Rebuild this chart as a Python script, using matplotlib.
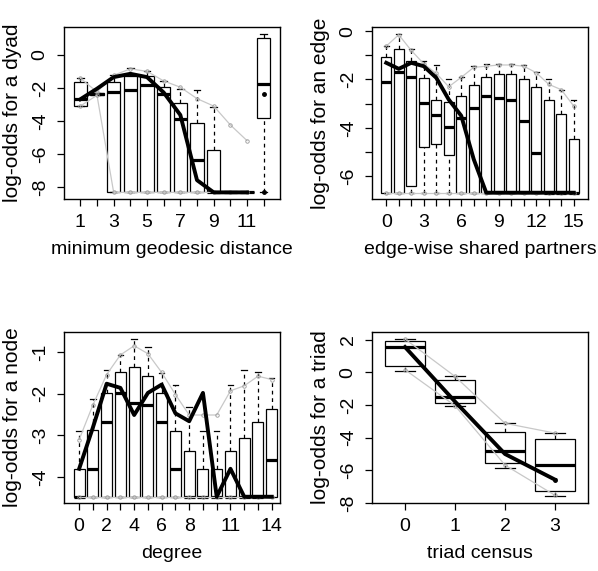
import matplotlib.pyplot as plt
from matplotlib.patches import Rectangle
import numpy as np

plt.rcParams.update({
    "font.family": ["Liberation Sans", "DejaVu Sans"],
    "font.size": 14,
})

NAN = np.nan

# --- minimum geodesic distance (positions 1..12, last = Inf) ---
geo_x = list(range(1, 13))
geo_lo = [-3.10, -2.45, -8.32, -8.32, -8.32, -8.32, -8.32, -8.32, -8.32, -8.32, -8.32, -8.32]
geo_q1 = [-3.09, -2.42, -8.32, -8.32, -8.32, -8.32, -8.32, -8.32, -8.32, -8.32, -8.32, -3.80]
geo_med = [-2.65, -2.38, -2.28, -2.12, -1.84, -2.40, -3.86, -6.36, -8.32, -8.32, -8.32, -1.78]
geo_q3 = [-1.66, -2.34, -1.62, -1.31, -1.27, -1.96, -2.93, -4.12, -5.74, -8.32, -8.32, 1.01]
geo_hi = [-1.41, -2.30, -1.24, -0.77, -1.01, -1.58, -2.08, -2.12, -3.13, -8.32, -8.32, 1.25]
geo_ub = [-1.41, -2.25, -1.24, -0.85, -1.00, -1.58, -1.96, -2.65, -3.10, -4.24, -5.19, NAN]
geo_lb = [-3.10, -2.45, -8.32, -8.32, -8.32, -8.32, -8.32, -8.32, -8.32, -8.32, -8.32, NAN]
geo_obs = [-2.69, -2.05, -1.35, -1.15, -1.35, -2.28, -3.64, -7.58, -8.32, -8.32, -8.32, NAN]
geo_extra = [(12, -2.36), (12, -8.32)]
geo_labels = ["1", "", "3", "", "5", "", "7", "", "9", "", "11", ""]

# --- edge-wise shared partners (0..15) ---
esp_x = list(range(0, 16))
esp_lo = [-6.68] * 16
esp_q1 = [-6.68, -6.68, -6.39, -4.78, -4.66, -5.13, -6.68, -6.68,
          -6.68, -6.68, -6.68, -6.68, -6.68, -6.68, -6.68, -6.68]
esp_med = [-2.09, -1.69, -1.89, -2.97, -3.48, -3.97, -3.58, -3.18,
           -2.67, -2.76, -2.86, -3.73, -5.05, -6.68, -6.68, -6.68]
esp_q3 = [-1.06, -0.73, -1.22, -1.95, -2.83, -2.92, -2.68, -2.24,
          -1.89, -1.76, -1.76, -2.00, -2.29, -2.86, -3.44, -4.47]
esp_hi = [-0.62, -0.11, -0.76, -1.24, -1.42, -2.00, -1.91, -1.45,
          -1.38, -1.34, -1.34, -1.42, -1.70, -2.00, -2.42, -2.86]
esp_ub = [-0.62, -0.15, -0.80, -1.35, -1.75, -2.30, -1.91, -1.50,
          -1.45, -1.40, -1.40, -1.45, -1.72, -2.20, -2.42, -3.10]
esp_lb = [-6.68] * 16
esp_obs = [-1.31, -1.56, -1.31, -1.45, -1.93, -2.83, -3.50, -5.30,
           -6.68, -6.68, -6.68, -6.68, -6.68, -6.68, -6.68, -6.68]
esp_labels = ["0", "", "", "3", "", "", "6", "", "", "9", "", "", "12", "", "", "15"]

# --- degree (0..14) ---
deg_x = list(range(0, 15))
deg_lo = [-4.47] * 15
deg_q1 = [-4.47] * 15
deg_med = [-4.47, -3.80, -2.68, -1.98, -2.23, -2.28, -2.68, -3.80,
           -4.47, -4.47, -4.47, -4.47, -4.47, -4.47, -3.58]
deg_q3 = [-3.80, -2.87, -1.98, -1.47, -1.35, -1.58, -1.98, -2.89,
          -3.38, -3.80, -3.80, -3.38, -3.07, -2.67, -2.37]
deg_hi = [-2.89, -2.12, -1.42, -1.06, -0.69, -0.89, -1.50, -1.80,
          -2.31, -2.89, -2.89, -1.80, -1.42, -1.47, -1.63]
deg_ub = [-3.10, -2.27, -1.54, -1.07, -0.85, -1.04, -1.49, -2.02,
          -2.51, -2.51, -2.51, -1.93, -1.81, -1.58, -1.66]
deg_lb = [-4.47] * 15
deg_obs = [-3.80, -2.81, -1.76, -1.86, -2.51, -1.98, -1.78, -2.47,
           -2.66, -1.98, -4.47, -3.80, -4.47, -4.47, -4.47]
deg_labels = ["0", "", "2", "", "4", "", "6", "", "8", "", "", "11", "", "", "14"]

# --- triad census (0..3) ---
tri_x = [0, 1, 2, 3]
tri_lo = [0.11, -2.04, -5.83, -7.59]
tri_q1 = [0.40, -1.89, -5.54, -7.26]
tri_med = [1.55, -1.52, -4.80, -5.66]
tri_q3 = [1.90, -0.46, -3.64, -4.07]
tri_hi = [2.04, -0.25, -3.12, -3.72]
tri_ub = [2.04, -0.25, -3.12, -3.72]
tri_lb = [0.16, -2.04, -5.68, -7.53]
tri_obs = [1.55, -1.79, -5.00, -6.57]
tri_labels = ["0", "1", "2", "3"]

GRAY = "#c8c8c8"
DASH = (0, (3, 3))


def draw_gof(ax, x, lo, q1, med, q3, hi, ub, lb, obs, labels,
             xlim, ylim, yticks, ylabels, xlabel, ylabel, extra=()):
    w = 0.8
    for xi, a, b, c, d, e in zip(x, lo, q1, med, q3, hi):
        ax.add_patch(Rectangle((xi - w / 2, b), w, d - b, fc="white",
                               ec="black", lw=0.9, zorder=2))
        ax.plot([xi, xi], [d, e], color="black", lw=0.9, ls=DASH, zorder=2)
        ax.plot([xi, xi], [a, b], color="black", lw=0.9, ls=DASH, zorder=2)
        for v in (a, e):
            ax.plot([xi - w / 4, xi + w / 4], [v, v], color="black", lw=0.9, zorder=2)
        ax.plot([xi - w / 2, xi + w / 2], [c, c], color="black", lw=2.3,
                solid_capstyle="butt", zorder=3)

    for band in (ub, lb):
        ax.plot(x, band, color=GRAY, lw=0.9, marker="o", ms=2.5,
                mfc="none", mec="#999999", mew=0.6, zorder=4)
    ax.plot(x, obs, color="black", lw=2.8, zorder=5)
    for px, py in extra:
        ax.plot(px, py, "o", color="black", ms=2.5, zorder=5)

    ax.set_xlim(*xlim)
    ax.set_ylim(*ylim)
    ax.set_xticks(x)
    ax.set_xticklabels(labels)
    ax.set_yticks(yticks)
    ax.set_yticklabels(ylabels, rotation=90, va="center")
    ax.tick_params(direction="out", length=5, width=0.9, pad=6, colors="black")
    for s in ax.spines.values():
        s.set_linewidth(1.0)
    ax.set_xlabel(xlabel, labelpad=7)
    ax.set_ylabel(ylabel, labelpad=7, fontsize=15)


fig = plt.figure(figsize=(5.98, 5.71), dpi=100)

ax1 = fig.add_axes([64 / 598, 1 - 199 / 571, 216 / 598, 172 / 571])
draw_gof(ax1, geo_x, geo_lo, geo_q1, geo_med, geo_q3, geo_hi, geo_ub, geo_lb,
         geo_obs, geo_labels, (0.02, 12.98), (-8.72, 1.68),
         [-8, -6, -4, -2, 0], ["-8", "-6", "-4", "-2", "0"],
         "minimum geodesic distance", "log-odds for a dyad", extra=geo_extra)

ax2 = fig.add_axes([372 / 598, 1 - 199 / 571, 216 / 598, 172 / 571])
draw_gof(ax2, esp_x, esp_lo, esp_q1, esp_med, esp_q3, esp_hi, esp_ub, esp_lb,
         esp_obs, esp_labels, (-1.14, 16.14), (-6.94, 0.17),
         [-6, -5, -4, -3, -2, -1, 0], ["-6", "", "-4", "", "-2", "", "0"],
         "edge-wise shared partners", "log-odds for an edge")

ax3 = fig.add_axes([64 / 598, 1 - 503 / 571, 216 / 598, 171 / 571])
draw_gof(ax3, deg_x, deg_lo, deg_q1, deg_med, deg_q3, deg_hi, deg_ub, deg_lb,
         deg_obs, deg_labels, (-1.1, 14.6), (-4.62, -0.52),
         [-4, -3, -2, -1], ["-4", "-3", "-2", "-1"],
         "degree", "log-odds for a node")

ax4 = fig.add_axes([372 / 598, 1 - 503 / 571, 216 / 598, 171 / 571])
draw_gof(ax4, tri_x, tri_lo, tri_q1, tri_med, tri_q3, tri_hi, tri_ub, tri_lb,
         tri_obs, tri_labels, (-0.66, 3.66), (-8.0, 2.47),
         [-8, -6, -4, -2, 0, 2], ["-8", "-6", "-4", "-2", "0", "2"],
         "triad census", "log-odds for a triad", extra=[(3, -6.57)])

fig.savefig("out.png", dpi=100)
